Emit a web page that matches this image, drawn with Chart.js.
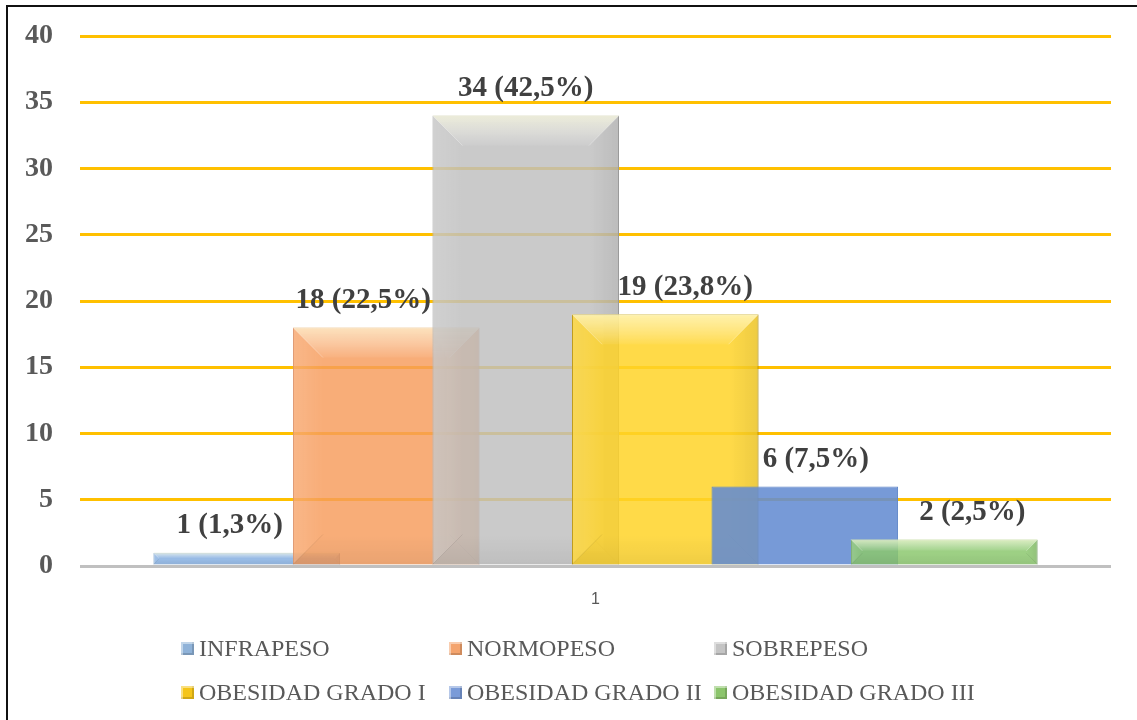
<!DOCTYPE html>
<html>
<head>
<meta charset="utf-8">
<script src="https://cdn.jsdelivr.net/npm/chart.js@4/dist/chart.umd.min.js"></script>
<style>
  html, body { margin: 0; padding: 0; background: #fff; }
  #wrap { position: relative; width: 1137px; height: 720px; overflow: hidden; }
  #frame {
    position: absolute; left: 6px; top: 5px; right: -10px; bottom: -10px;
    border-top: 2px solid #111; border-left: 2px solid #111; pointer-events: none;
  }
  #legend {
    position: absolute; left: 181px; top: 636px;
    display: grid; grid-template-columns: 268px 265px 280px; row-gap: 19px;
    font-family: 'Liberation Serif', 'Times New Roman', serif; font-size: 24px; color: #595959;
  }
  .item { display: flex; align-items: center; height: 25px; white-space: nowrap; }
  .box {
    width: 13px; height: 13px; margin-right: 5px; flex: none;
    box-shadow: inset 2px 2px 0 rgba(255,255,255,0.45), inset -2px -2px 0 rgba(0,0,0,0.15);
  }
</style>
</head>
<body>
<div id="wrap">
  <canvas id="chart-imc" width="1137" height="720"></canvas>
  <div id="legend"></div>
  <div id="frame"></div>
</div>
<script>
// ---- data ----
const categories = ['1'];
const seriesNames = ['INFRAPESO', 'NORMOPESO', 'SOBREPESO', 'OBESIDAD GRADO I', 'OBESIDAD GRADO II', 'OBESIDAD GRADO III'];
const counts = [1, 18, 34, 19, 6, 2];
const percents = ['1,3', '22,5', '42,5', '23,8', '7,5', '2,5'];
const yMin = 0, yMax = 40, yStep = 5;

// ---- styles ----
const fills = [
  'rgba(141, 180, 226, 0.9)',
  'rgba(247, 155, 90, 0.82)',
  'rgba(190, 190, 190, 0.82)',
  'rgba(255, 212, 40, 0.85)',
  'rgba(100, 140, 210, 0.88)',
  'rgba(140, 200, 110, 0.85)'
];
const swatches = ['#8fb2d8', '#f4a46e', '#c4c4c4', '#f5c518', '#7a9bd8', '#8cc56c'];
const edges = ['#7aa0c8', '#d9875a', '#a6a6a6', '#b89000', '#5f86c8', '#76a85e'];
const bevels = [true, true, true, true, false, true];
const labelNudge = [-17, -23, 0, 20, 11, 28];

// soft bevel over each bar: light top, faint sides, darker bottom corners
function drawBevel(ctx, bar) {
  const p = bar.getProps(['x', 'y', 'base', 'width'], true);
  const l = p.x - p.width / 2, r = p.x + p.width / 2;
  const t = Math.min(p.y, p.base), b = Math.max(p.y, p.base);
  const s = Math.min(30, (b - t) * 0.45);
  ctx.save();

  const g = ctx.createLinearGradient(0, t, 0, t + s);
  g.addColorStop(0, 'rgba(255,255,225,0.65)');
  g.addColorStop(1, 'rgba(255,255,255,0.05)');
  ctx.fillStyle = g;
  ctx.beginPath();
  ctx.moveTo(l, t); ctx.lineTo(r, t); ctx.lineTo(r - s, t + s); ctx.lineTo(l + s, t + s);
  ctx.closePath(); ctx.fill();

  const gl = ctx.createLinearGradient(l, 0, l + s, 0);
  gl.addColorStop(0, 'rgba(255,255,255,0.12)');
  gl.addColorStop(1, 'rgba(255,255,255,0)');
  ctx.fillStyle = gl;
  ctx.beginPath();
  ctx.moveTo(l, t); ctx.lineTo(l + s, t + s); ctx.lineTo(l + s, b - s); ctx.lineTo(l, b);
  ctx.closePath(); ctx.fill();

  const gr = ctx.createLinearGradient(r - s, 0, r, 0);
  gr.addColorStop(0, 'rgba(0,0,0,0)');
  gr.addColorStop(1, 'rgba(0,0,0,0.07)');
  ctx.fillStyle = gr;
  ctx.beginPath();
  ctx.moveTo(r, t); ctx.lineTo(r - s, t + s); ctx.lineTo(r - s, b - s); ctx.lineTo(r, b);
  ctx.closePath(); ctx.fill();

  const gb = ctx.createLinearGradient(0, b - s, 0, b);
  gb.addColorStop(0, 'rgba(0,0,0,0)');
  gb.addColorStop(1, 'rgba(0,0,0,0.06)');
  ctx.fillStyle = gb;
  ctx.beginPath();
  ctx.moveTo(l, b); ctx.lineTo(l + s, b - s); ctx.lineTo(r - s, b - s); ctx.lineTo(r, b);
  ctx.closePath(); ctx.fill();

  ctx.strokeStyle = 'rgba(255,255,255,0.3)';
  ctx.lineWidth = 1;
  ctx.beginPath();
  ctx.moveTo(l, t); ctx.lineTo(l + s, t + s);
  ctx.moveTo(r, t); ctx.lineTo(r - s, t + s);
  ctx.stroke();
  ctx.strokeStyle = 'rgba(0,0,0,0.08)';
  ctx.beginPath();
  ctx.moveTo(l, b); ctx.lineTo(l + s, b - s);
  ctx.moveTo(r, b); ctx.lineTo(r - s, b - s);
  ctx.stroke();
  ctx.restore();
}

// draw datasets first-to-last so later bars sit on top of earlier ones
const forwardDraw = {
  id: 'forwardDraw',
  beforeDatasetsDraw(chart) {
    const ctx = chart.ctx;
    chart.getSortedVisibleDatasetMetas().forEach(meta => {
      meta.controller.draw();
      if (bevels[meta.index]) meta.data.forEach(bar => drawBevel(ctx, bar));
    });
    return false;
  }
};

// value labels "n (p%)" above each bar
const valueLabels = {
  id: 'valueLabels',
  afterDraw(chart) {
    const ctx = chart.ctx;
    ctx.save();
    ctx.font = 'bold 29px "Liberation Serif", "Times New Roman", serif';
    ctx.fillStyle = '#404040';
    ctx.textAlign = 'center';
    ctx.textBaseline = 'middle';
    chart.getSortedVisibleDatasetMetas().forEach(meta => {
      const i = meta.index;
      meta.data.forEach(bar => {
        ctx.fillText(`${counts[i]} (${percents[i]}%)`, bar.x + labelNudge[i], bar.y - 27);
      });
    });
    ctx.restore();
  }
};

const ctx = document.getElementById('chart-imc').getContext('2d');
const chart = new Chart(ctx, {
  type: 'bar',
  data: {
    labels: categories,
    datasets: seriesNames.map((name, i) => ({
      label: name,
      data: [counts[i]],
      backgroundColor: fills[i],
      borderColor: edges[i],
      borderWidth: 1,
      categoryPercentage: 0.812,
      barPercentage: 1.337,
    }))
  },
  options: {
    responsive: false,
    animation: false,
    layout: { padding: { top: 36, right: 26, left: 0, bottom: 0 } },
    scales: {
      x: {
        grid: { display: false },
        border: { display: false },
        ticks: {
          padding: 16,
          color: '#595959',
          font: { family: '"Liberation Sans", Arial, sans-serif', size: 16 }
        },
        afterFit(scale) { scale.height = 154; }
      },
      y: {
        min: yMin,
        max: yMax,
        border: { display: false },
        grid: {
          drawTicks: false,
          lineWidth: 3,
          color: c => (c.tick && c.tick.value === 0 ? '#c0c0c0' : '#ffc000'),
        },
        ticks: {
          stepSize: yStep,
          padding: 27,
          color: '#595959',
          // small lineHeight keeps the top label from pushing the plot area down
          font: { family: '"Liberation Serif", "Times New Roman", serif', size: 28, weight: 'bold', lineHeight: 0.4 }
        },
        afterFit(scale) { scale.width = 80; }
      }
    },
    plugins: {
      legend: { display: false },
      tooltip: { enabled: false }
    }
  },
  plugins: [forwardDraw, valueLabels]
});

// html legend in fixed columns
const legendEl = document.getElementById('legend');
chart.data.datasets.forEach((ds, i) => {
  const item = document.createElement('div');
  item.className = 'item';
  const box = document.createElement('span');
  box.className = 'box';
  box.style.background = swatches[i];
  const txt = document.createElement('span');
  txt.textContent = ds.label;
  item.appendChild(box);
  item.appendChild(txt);
  legendEl.appendChild(item);
});
</script>
</body>
</html>
